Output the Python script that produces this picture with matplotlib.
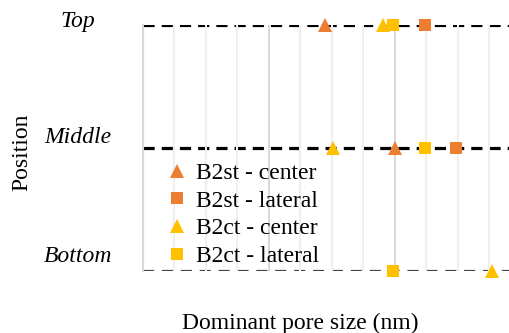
import matplotlib.pyplot as plt
from matplotlib.ticker import MultipleLocator
from matplotlib.transforms import ScaledTranslation

# Position levels (Top / Middle / Bottom)
positions = ["Bottom", "Middle", "Top"]
levels = [1, 2, 3]

# Dominant pore size (nm) per series, one value per level (None = no point)
b2st_center = [None, 40.0, 28.9]
b2st_lateral = [None, 49.7, 44.8]
b2ct_center = [55.4, 30.2, 38.1]
b2ct_lateral = [39.7, 44.8, 39.7]

orange = "#ED7D31"
yellow = "#FFC000"

plt.rcParams['font.family'] = ['Liberation Serif', 'DejaVu Serif']
fs = 17

fig = plt.figure(figsize=(5.1, 3.33), dpi=100)
ax = fig.add_axes([0.280, 0.186, 0.72, 0.739])

ax.set_xlim(0, 58.3)
ax.set_ylim(1, 3)

# vertical grid: light minor every 5, darker major every 20
ax.xaxis.set_major_locator(MultipleLocator(20))
ax.xaxis.set_minor_locator(MultipleLocator(5))
ax.grid(which='minor', axis='x', color='#efefef', lw=1.5, zorder=0)
ax.grid(which='major', axis='x', color='#d9d9d9', lw=1.5, zorder=0)
ax.tick_params(axis='x', which='both', length=0, labelbottom=False)

# dashed level lines
for lv in levels:
    if lv == 1:
        ax.axhline(lv, color='#444444', lw=1.6, dashes=(5, 3.5), zorder=1)
    else:
        ax.axhline(lv, color='black', lw=2.3, dashes=(3.5, 2.2), zorder=1)

def pts(vals):
    xs = [v for v in vals if v is not None]
    ys = [lv for v, lv in zip(vals, levels) if v is not None]
    return xs, ys

series = [
    (b2st_center, '^', orange, 'B2st - center', 10.5),
    (b2st_lateral, 's', orange, 'B2st - lateral', 9),
    (b2ct_center, '^', yellow, 'B2ct - center', 10.5),
    (b2ct_lateral, 's', yellow, 'B2ct - lateral', 9),
]
for vals, mk, col, lab, ms in series:
    xs, ys = pts(vals)
    ax.plot(xs, ys, ls='none', marker=mk, color=col, markersize=ms,
            markeredgewidth=0, label=lab, clip_on=False, zorder=3)

for s in ['top', 'right', 'bottom']:
    ax.spines[s].set_visible(False)
ax.spines['left'].set_color('#d9d9d9')
ax.spines['left'].set_linewidth(1.5)

ax.set_yticks(levels)
ax.set_yticklabels(positions, fontsize=fs, style='italic')
ax.tick_params(axis='y', length=0, pad=46.8)
lift = [15, 11, 3]  # px, labels sit above their lines
for lbl, dy in zip(ax.get_yticklabels(), lift):
    lbl.set_horizontalalignment('center')
    lbl.set_verticalalignment('center')
    lbl.set_transform(lbl.get_transform() + ScaledTranslation(0, dy / 100, fig.dpi_scale_trans))

ax.set_ylabel("Position", fontsize=fs)
ax.yaxis.set_label_coords(-0.30, 0.484)
ax.set_xlabel("Dominant pore size (nm)", fontsize=fs)
ax.xaxis.set_label_coords(0.43, -0.17)

ax.legend(loc='upper left', bbox_to_anchor=(0.035, 0.48), frameon=False,
          fontsize=fs, handletextpad=0.3, labelspacing=0.26,
          handlelength=1.0, borderaxespad=0)

fig.savefig("out.png", dpi=100)
